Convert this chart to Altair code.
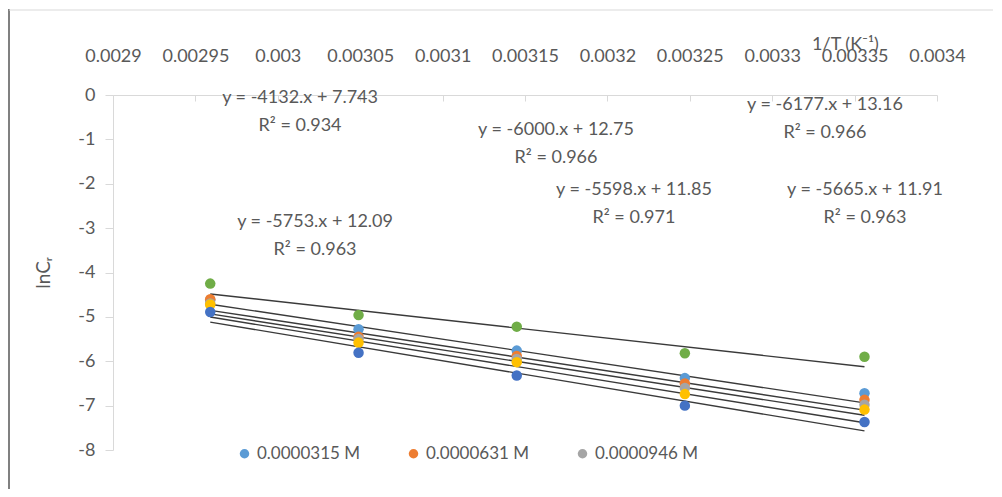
import altair as alt
import pandas as pd

# ---------------- data ----------------
inv_T = [0.002959, 0.003049, 0.003145, 0.003247, 0.003356]

series_names = ["0.0000315 M", "0.0000631 M", "0.0000946 M",
                "0.000126 M", "0.000158 M", "0.000189 M"]
series_colors = ["#5B9BD5", "#ED7D31", "#A5A5A5", "#FFC000", "#4472C4", "#70AD47"]

lnC_1 = [-4.62, -5.28, -5.76, -6.38, -6.72]
lnC_2 = [-4.60, -5.45, -5.88, -6.50, -6.87]
lnC_3 = [-4.70, -5.50, -5.95, -6.60, -6.98]
lnC_4 = [-4.72, -5.58, -6.02, -6.74, -7.09]
lnC_5 = [-4.89, -5.81, -6.32, -7.00, -7.37]
lnC_6 = [-4.25, -4.96, -5.22, -5.82, -5.90]
lnC_all = [lnC_1, lnC_2, lnC_3, lnC_4, lnC_5, lnC_6]

slopes = [-5598, -5665, -5753, -6000, -6177, -4132]
intercepts = [11.85, 11.91, 12.09, 12.75, 13.16, 7.743]
r_squared = ["0.971", "0.963", "0.963", "0.966", "0.966", "0.934"]

# where each trendline label sits (data units)
label_x = [0.0032161, 0.0033563, 0.0030226, 0.0031688, 0.003332, 0.0030135]
label_y = [-2.14, -2.14, -2.86, -0.79, -0.225, -0.068]

x_ticks = [0.0029, 0.00295, 0.003, 0.00305, 0.0031, 0.00315,
           0.0032, 0.00325, 0.0033, 0.00335, 0.0034]
y_ticks = [0, -1, -2, -3, -4, -5, -6, -7, -8]

# ---------------- tables ----------------
pts = pd.DataFrame([
    {"series": s, "x": x, "y": y}
    for s, ys in zip(series_names, lnC_all)
    for x, y in zip(inv_T, ys)
])

trend = pd.DataFrame([
    {"series": s, "x": x, "m": m, "b": b}
    for s, m, b in zip(series_names, slopes, intercepts)
    for x in (inv_T[0], inv_T[-1])
])

labels = pd.DataFrame([
    {"x": lx, "y": ly, "eq": f"y = {m}.x + {b}", "r2": f"R\u00b2 = {r}"}
    for lx, ly, m, b, r in zip(label_x, label_y, slopes, intercepts, r_squared)
])

FONT = "Lato"
TXT = "#595959"
AX = "#D9D9D9"
W, H = 824, 355

xscale = alt.Scale(domain=[0.0029, 0.0034], nice=False, zero=False)
yscale = alt.Scale(domain=[-8, 0], nice=False, zero=False)
y_axis = alt.Axis(values=y_ticks, labelExpr="'' + datum.value",
                  domainColor=AX, tickColor=AX, tickSize=8,
                  labelPadding=10, labelFontSize=18, labelColor=TXT, labelFont=FONT,
                  grid=False, title="lnC\u1d63", titleFont=FONT, titleFontSize=19,
                  titleColor=TXT, titleFontWeight="normal", titlePadding=24)

top_axis = alt.Axis(orient="top", values=x_ticks, format="~g", ticks=False, tickSize=0,
                    domain=False, labelPadding=30, labelFontSize=18, labelColor=TXT,
                    labelFont=FONT, grid=False, labelFlush=False, labelOverlap=False,
                    title="1/T (K\u207b\u00b9)", titleFont=FONT, titleFontSize=18,
                    titleColor=TXT, titleFontWeight="normal", titleX=732, titleY=-51,
                    titleAlign="center", titleBaseline="middle")

tick_axis = alt.Axis(orient="bottom", offset=-H, values=x_ticks, labels=False,
                     ticks=True, tickSize=6, tickColor=AX, domainColor=AX,
                     grid=False, title=None)

points = alt.Chart(pts).mark_circle(size=110, opacity=1).encode(
    x=alt.X("x:Q", scale=xscale, axis=top_axis),
    y=alt.Y("y:Q", scale=yscale, axis=y_axis),
    color=alt.Color("series:N",
                    scale=alt.Scale(domain=series_names, range=series_colors),
                    legend=alt.Legend(values=series_names[:3], orient="none",
                                      direction="horizontal", legendX=123, legendY=350,
                                      title=None, symbolType="circle", symbolSize=90,
                                      labelFontSize=17, labelColor=TXT, labelFont=FONT,
                                      labelOffset=4, columnPadding=44, padding=0)),
    order=alt.Order("series:N")
)

lines = alt.Chart(trend).transform_calculate(
    yfit="datum.m * datum.x + datum.b"
).mark_line(color="#3a3a3a", strokeWidth=1.4).encode(
    x=alt.X("x:Q", scale=xscale, axis=tick_axis),
    y=alt.Y("yfit:Q", scale=yscale, axis=y_axis),
    detail="series:N"
)

eq_text = alt.Chart(labels).mark_text(font=FONT, fontSize=18, color=TXT,
                                      align="center", baseline="middle").encode(
    x=alt.X("x:Q", scale=xscale, axis=None),
    y=alt.Y("y:Q", scale=yscale, axis=y_axis),
    text="eq:N"
)

r2_text = alt.Chart(labels).mark_text(font=FONT, fontSize=18, color=TXT,
                                      align="center", baseline="middle", dy=28).encode(
    x=alt.X("x:Q", scale=xscale, axis=None),
    y=alt.Y("y:Q", scale=yscale, axis=y_axis),
    text="r2:N"
)

frame_left = alt.Chart(alt.Data(values=[{}])).mark_rule(color="#808080", strokeWidth=2).encode(
    x=alt.value(-104), y=alt.value(-86), y2=alt.value(H + 40)
)
frame_top = alt.Chart(alt.Data(values=[{}])).mark_rule(color="#D9D9D9", strokeWidth=1).encode(
    x=alt.value(-104), x2=alt.value(W + 56), y=alt.value(-85)
)

chart = alt.layer(frame_left, frame_top, lines, points, eq_text, r2_text).resolve_axis(
    x="independent"
).properties(
    width=W, height=H,
    padding={"left": 105, "top": 87, "right": 57, "bottom": 39},
    autosize=alt.AutoSizeParams(type="none"),
    background="white"
).configure_view(strokeWidth=0)

chart.save("out.html", embed_options={"renderer": "svg", "actions": False})
